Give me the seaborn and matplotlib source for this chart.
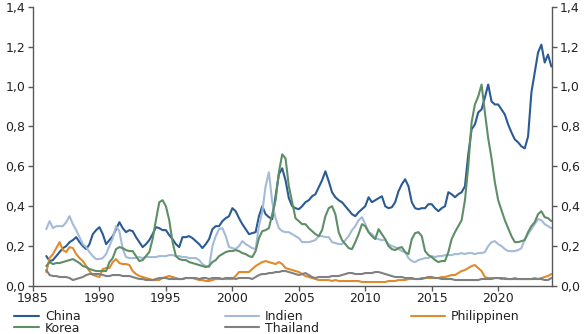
import numpy as np
import pandas as pd
import matplotlib
matplotlib.use("Agg")
import matplotlib.pyplot as plt
from matplotlib.ticker import FuncFormatter
from matplotlib.lines import Line2D
import seaborn as sns

# Quarterly observations, 1986 Q1 .. 2024 Q1
start_year = 1986
china = [
    0.15, 0.125, 0.13, 0.15,     # 1986
    0.17, 0.19, 0.20, 0.22,      # 1987
    0.23, 0.245, 0.22, 0.20,     # 1988
    0.185, 0.21, 0.26, 0.28,     # 1989
    0.295, 0.26, 0.21, 0.23,     # 1990
    0.25, 0.285, 0.32, 0.29,     # 1991
    0.27, 0.28, 0.275, 0.245,    # 1992
    0.22, 0.195, 0.21, 0.23,     # 1993
    0.26, 0.295, 0.29, 0.28,     # 1994
    0.28, 0.255, 0.235, 0.21,    # 1995
    0.195, 0.245, 0.245, 0.25,   # 1996
    0.24, 0.225, 0.21, 0.19,     # 1997
    0.21, 0.235, 0.285, 0.30,    # 1998
    0.30, 0.325, 0.34, 0.35,     # 1999
    0.39, 0.375, 0.34, 0.31,     # 2000
    0.285, 0.26, 0.265, 0.27,    # 2001
    0.35, 0.40, 0.36, 0.345,     # 2002
    0.335, 0.45, 0.56, 0.59,     # 2003
    0.53, 0.44, 0.40, 0.39,      # 2004
    0.385, 0.40, 0.42, 0.43,     # 2005
    0.45, 0.46, 0.495, 0.53,     # 2006
    0.575, 0.525, 0.47, 0.445,   # 2007
    0.43, 0.42, 0.40, 0.38,      # 2008
    0.36, 0.35, 0.37, 0.385,     # 2009
    0.40, 0.445, 0.42, 0.43,     # 2010
    0.44, 0.45, 0.40, 0.39,      # 2011
    0.395, 0.42, 0.475, 0.51,    # 2012
    0.535, 0.50, 0.42, 0.39,     # 2013
    0.385, 0.39, 0.39, 0.41,     # 2014
    0.41, 0.39, 0.375, 0.39,     # 2015
    0.40, 0.47, 0.46, 0.445,     # 2016
    0.46, 0.47, 0.50, 0.66,      # 2017
    0.785, 0.81, 0.87, 0.885,    # 2018
    0.945, 1.01, 0.925, 0.91,    # 2019
    0.91, 0.885, 0.86, 0.81,     # 2020
    0.77, 0.735, 0.72, 0.70,     # 2021
    0.69, 0.75, 0.97, 1.07,      # 2022
    1.17, 1.21, 1.12, 1.16,      # 2023
    1.10,                        # 2024
]
korea = [
    0.10, 0.12, 0.11, 0.115,     # 1986
    0.115, 0.12, 0.125, 0.13,    # 1987
    0.135, 0.125, 0.115, 0.10,   # 1988
    0.095, 0.085, 0.08, 0.075,   # 1989
    0.075, 0.075, 0.075, 0.12,   # 1990
    0.14, 0.185, 0.195, 0.19,    # 1991
    0.18, 0.175, 0.175, 0.15,    # 1992
    0.125, 0.13, 0.15, 0.17,     # 1993
    0.235, 0.33, 0.42, 0.43,     # 1994
    0.40, 0.33, 0.22, 0.15,      # 1995
    0.135, 0.13, 0.13, 0.12,     # 1996
    0.115, 0.11, 0.105, 0.10,    # 1997
    0.095, 0.10, 0.12, 0.13,     # 1998
    0.15, 0.16, 0.17, 0.175,     # 1999
    0.175, 0.18, 0.175, 0.165,   # 2000
    0.16, 0.15, 0.145, 0.175,    # 2001
    0.24, 0.275, 0.28, 0.29,     # 2002
    0.36, 0.43, 0.57, 0.66,      # 2003
    0.64, 0.50, 0.42, 0.34,      # 2004
    0.325, 0.31, 0.31, 0.29,     # 2005
    0.275, 0.26, 0.25, 0.28,     # 2006
    0.35, 0.39, 0.40, 0.36,      # 2007
    0.27, 0.23, 0.21, 0.19,      # 2008
    0.185, 0.22, 0.26, 0.31,     # 2009
    0.30, 0.27, 0.25, 0.235,     # 2010
    0.285, 0.26, 0.235, 0.20,    # 2011
    0.185, 0.18, 0.19, 0.195,    # 2012
    0.17, 0.16, 0.235, 0.265,    # 2013
    0.27, 0.25, 0.175, 0.155,    # 2014
    0.145, 0.13, 0.12, 0.125,    # 2015
    0.125, 0.17, 0.235, 0.27,    # 2016
    0.30, 0.33, 0.43, 0.60,      # 2017
    0.82, 0.91, 0.95, 1.01,      # 2018
    0.87, 0.74, 0.64, 0.52,      # 2019
    0.43, 0.38, 0.33, 0.29,      # 2020
    0.25, 0.22, 0.22, 0.225,     # 2021
    0.23, 0.27, 0.30, 0.32,      # 2022
    0.36, 0.375, 0.345, 0.34,    # 2023
    0.325,                       # 2024
]
indien = [
    0.285, 0.325, 0.29, 0.30,    # 1986
    0.30, 0.30, 0.32, 0.35,      # 1987
    0.31, 0.28, 0.245, 0.21,     # 1988
    0.195, 0.17, 0.15, 0.135,    # 1989
    0.135, 0.14, 0.16, 0.20,     # 1990
    0.24, 0.30, 0.275, 0.185,    # 1991
    0.145, 0.14, 0.14, 0.14,     # 1992
    0.145, 0.14, 0.145, 0.145,   # 1993
    0.145, 0.145, 0.15, 0.15,    # 1994
    0.15, 0.155, 0.155, 0.15,    # 1995
    0.15, 0.145, 0.145, 0.14,    # 1996
    0.14, 0.14, 0.13, 0.11,      # 1997
    0.10, 0.095, 0.20, 0.25,     # 1998
    0.285, 0.29, 0.25, 0.195,    # 1999
    0.19, 0.185, 0.20, 0.225,    # 2000
    0.21, 0.20, 0.19, 0.185,     # 2001
    0.30, 0.37, 0.50, 0.57,      # 2002
    0.42, 0.34, 0.29, 0.275,     # 2003
    0.27, 0.27, 0.26, 0.25,      # 2004
    0.24, 0.22, 0.22, 0.22,      # 2005
    0.225, 0.23, 0.25, 0.25,     # 2006
    0.245, 0.245, 0.22, 0.215,   # 2007
    0.21, 0.21, 0.23, 0.25,      # 2008
    0.28, 0.30, 0.33, 0.345,     # 2009
    0.31, 0.27, 0.26, 0.24,      # 2010
    0.235, 0.23, 0.23, 0.21,     # 2011
    0.20, 0.195, 0.185, 0.175,   # 2012
    0.17, 0.14, 0.125, 0.12,     # 2013
    0.13, 0.135, 0.14, 0.14,     # 2014
    0.15, 0.145, 0.15, 0.15,     # 2015
    0.155, 0.155, 0.155, 0.16,   # 2016
    0.16, 0.165, 0.16, 0.165,    # 2017
    0.165, 0.16, 0.165, 0.165,   # 2018
    0.17, 0.20, 0.22, 0.225,     # 2019
    0.21, 0.20, 0.185, 0.175,    # 2020
    0.175, 0.175, 0.18, 0.19,    # 2021
    0.235, 0.26, 0.285, 0.31,    # 2022
    0.335, 0.33, 0.31, 0.30,     # 2023
    0.29,                        # 2024
]
philippinen = [
    0.07, 0.14, 0.16, 0.19,      # 1986
    0.22, 0.18, 0.17, 0.195,     # 1987
    0.19, 0.16, 0.14, 0.125,     # 1988
    0.10, 0.075, 0.055, 0.05,    # 1989
    0.045, 0.085, 0.09, 0.09,    # 1990
    0.12, 0.135, 0.115, 0.11,    # 1991
    0.11, 0.105, 0.075, 0.06,    # 1992
    0.05, 0.045, 0.04, 0.035,    # 1993
    0.03, 0.03, 0.03, 0.04,      # 1994
    0.045, 0.05, 0.045, 0.04,    # 1995
    0.035, 0.035, 0.04, 0.04,    # 1996
    0.04, 0.035, 0.03, 0.03,     # 1997
    0.025, 0.025, 0.03, 0.035,   # 1998
    0.035, 0.035, 0.035, 0.035,  # 1999
    0.035, 0.05, 0.07, 0.07,     # 2000
    0.07, 0.07, 0.085, 0.10,     # 2001
    0.11, 0.12, 0.125, 0.12,     # 2002
    0.115, 0.11, 0.12, 0.11,     # 2003
    0.09, 0.085, 0.08, 0.075,    # 2004
    0.07, 0.06, 0.05, 0.045,     # 2005
    0.04, 0.035, 0.03, 0.03,     # 2006
    0.03, 0.03, 0.025, 0.03,     # 2007
    0.025, 0.025, 0.025, 0.025,  # 2008
    0.025, 0.025, 0.025, 0.02,   # 2009
    0.02, 0.02, 0.02, 0.02,      # 2010
    0.02, 0.02, 0.02, 0.025,     # 2011
    0.025, 0.025, 0.03, 0.03,    # 2012
    0.03, 0.035, 0.035, 0.035,   # 2013
    0.035, 0.04, 0.04, 0.04,     # 2014
    0.04, 0.04, 0.04, 0.045,     # 2015
    0.045, 0.05, 0.055, 0.055,   # 2016
    0.065, 0.075, 0.08, 0.09,    # 2017
    0.10, 0.105, 0.09, 0.075,    # 2018
    0.045, 0.04, 0.04, 0.04,     # 2019
    0.04, 0.035, 0.04, 0.035,    # 2020
    0.035, 0.04, 0.035, 0.035,   # 2021
    0.035, 0.035, 0.035, 0.04,   # 2022
    0.035, 0.04, 0.045, 0.05,    # 2023
    0.06,                        # 2024
]
thailand = [
    0.08, 0.055, 0.05, 0.05,     # 1986
    0.045, 0.045, 0.045, 0.04,   # 1987
    0.03, 0.035, 0.04, 0.045,    # 1988
    0.055, 0.06, 0.06, 0.06,     # 1989
    0.06, 0.055, 0.05, 0.05,     # 1990
    0.055, 0.055, 0.055, 0.05,   # 1991
    0.05, 0.05, 0.045, 0.04,     # 1992
    0.035, 0.035, 0.03, 0.03,    # 1993
    0.03, 0.035, 0.04, 0.04,     # 1994
    0.04, 0.035, 0.035, 0.035,   # 1995
    0.035, 0.035, 0.04, 0.04,    # 1996
    0.04, 0.04, 0.035, 0.04,     # 1997
    0.04, 0.035, 0.04, 0.04,     # 1998
    0.04, 0.035, 0.04, 0.04,     # 1999
    0.04, 0.035, 0.04, 0.04,     # 2000
    0.04, 0.04, 0.035, 0.045,    # 2001
    0.055, 0.06, 0.06, 0.065,    # 2002
    0.065, 0.07, 0.07, 0.075,    # 2003
    0.075, 0.07, 0.065, 0.06,    # 2004
    0.055, 0.06, 0.065, 0.055,   # 2005
    0.045, 0.04, 0.045, 0.045,   # 2006
    0.045, 0.045, 0.05, 0.05,    # 2007
    0.05, 0.055, 0.06, 0.065,    # 2008
    0.065, 0.06, 0.06, 0.06,     # 2009
    0.065, 0.065, 0.065, 0.07,   # 2010
    0.07, 0.065, 0.06, 0.055,    # 2011
    0.05, 0.045, 0.045, 0.045,   # 2012
    0.04, 0.04, 0.04, 0.035,     # 2013
    0.035, 0.035, 0.04, 0.045,   # 2014
    0.045, 0.04, 0.04, 0.035,    # 2015
    0.035, 0.035, 0.035, 0.03,   # 2016
    0.03, 0.03, 0.03, 0.03,      # 2017
    0.03, 0.03, 0.03, 0.035,     # 2018
    0.035, 0.035, 0.035, 0.04,   # 2019
    0.04, 0.04, 0.035, 0.035,    # 2020
    0.035, 0.035, 0.035, 0.035,  # 2021
    0.035, 0.035, 0.035, 0.035,  # 2022
    0.035, 0.035, 0.03, 0.03,    # 2023
    0.04,                        # 2024
]

names = ["China", "Indien", "Philippinen", "Korea", "Thailand"]
colors = {
    "China": "#2b5b94",
    "Indien": "#a4bbd7",
    "Philippinen": "#e08a2e",
    "Korea": "#5e8e66",
    "Thailand": "#808080",
}
y_ticks = [0.0, 0.2, 0.4, 0.6, 0.8, 1.0, 1.2, 1.4]
x_ticks = [1985, 1990, 1995, 2000, 2005, 2010, 2015, 2020]

series = {"China": china, "Indien": indien, "Philippinen": philippinen,
          "Korea": korea, "Thailand": thailand}
frames = []
for name in names:
    vals = series[name]
    t = start_year + np.arange(len(vals)) * 0.25
    frames.append(pd.DataFrame({"Jahr": t, "Wert": vals, "Land": name}))
df = pd.concat(frames, ignore_index=True)

sns.set_theme(style="white")
plt.rcParams["font.family"] = ["DejaVu Sans"]
text_col = "#222222"
spine_col = "#595959"

fig = plt.figure(figsize=(5.86, 3.34), dpi=100)
ax = fig.add_axes([33 / 586, 1 - 286 / 334, (552 - 33) / 586, (286 - 6.7) / 334])

sns.lineplot(data=df, x="Jahr", y="Wert", hue="Land", hue_order=names,
             palette=colors, linewidth=1.5, legend=False, ax=ax)

ax.set_xlim(1985, 2024.05)
ax.set_ylim(0, 1.4)
ax.set_xticks(x_ticks)
ax.set_yticks(y_ticks)
ax.yaxis.set_major_formatter(FuncFormatter(lambda v, p: f"{v:.1f}".replace(".", ",")))
ax.set_xlabel("")
ax.set_ylabel("")

for side in ["left", "right", "bottom"]:
    ax.spines[side].set_visible(True)
    ax.spines[side].set_color(spine_col)
    ax.spines[side].set_linewidth(1.0)
ax.spines["top"].set_visible(False)

ax.tick_params(axis="both", direction="out", length=3.5, width=1.0,
               color=spine_col, labelcolor=text_col, labelsize=9, pad=2)
ax.tick_params(axis="y", left=True, right=True, labelleft=True, labelright=True)
ax.tick_params(axis="x", bottom=True, pad=1)

# Legend laid out in three columns under the plot
columns = [(["China", "Korea"], 14, 2.0),
           (["Indien", "Thailand"], 225, 2.7),
           (["Philippinen"], 411, 2.7)]
for labels, xpx, hlen in columns:
    handles = [Line2D([], [], color=colors[n], linewidth=1.5) for n in labels]
    fig.legend(handles, labels, loc="upper left",
               bbox_to_anchor=(xpx / 586, 1 - 310 / 334),
               frameon=False, fontsize=9, handlelength=hlen, handletextpad=0.5,
               labelspacing=-0.1, borderpad=0, borderaxespad=0, labelcolor=text_col)

fig.savefig("out.png", dpi=100)
